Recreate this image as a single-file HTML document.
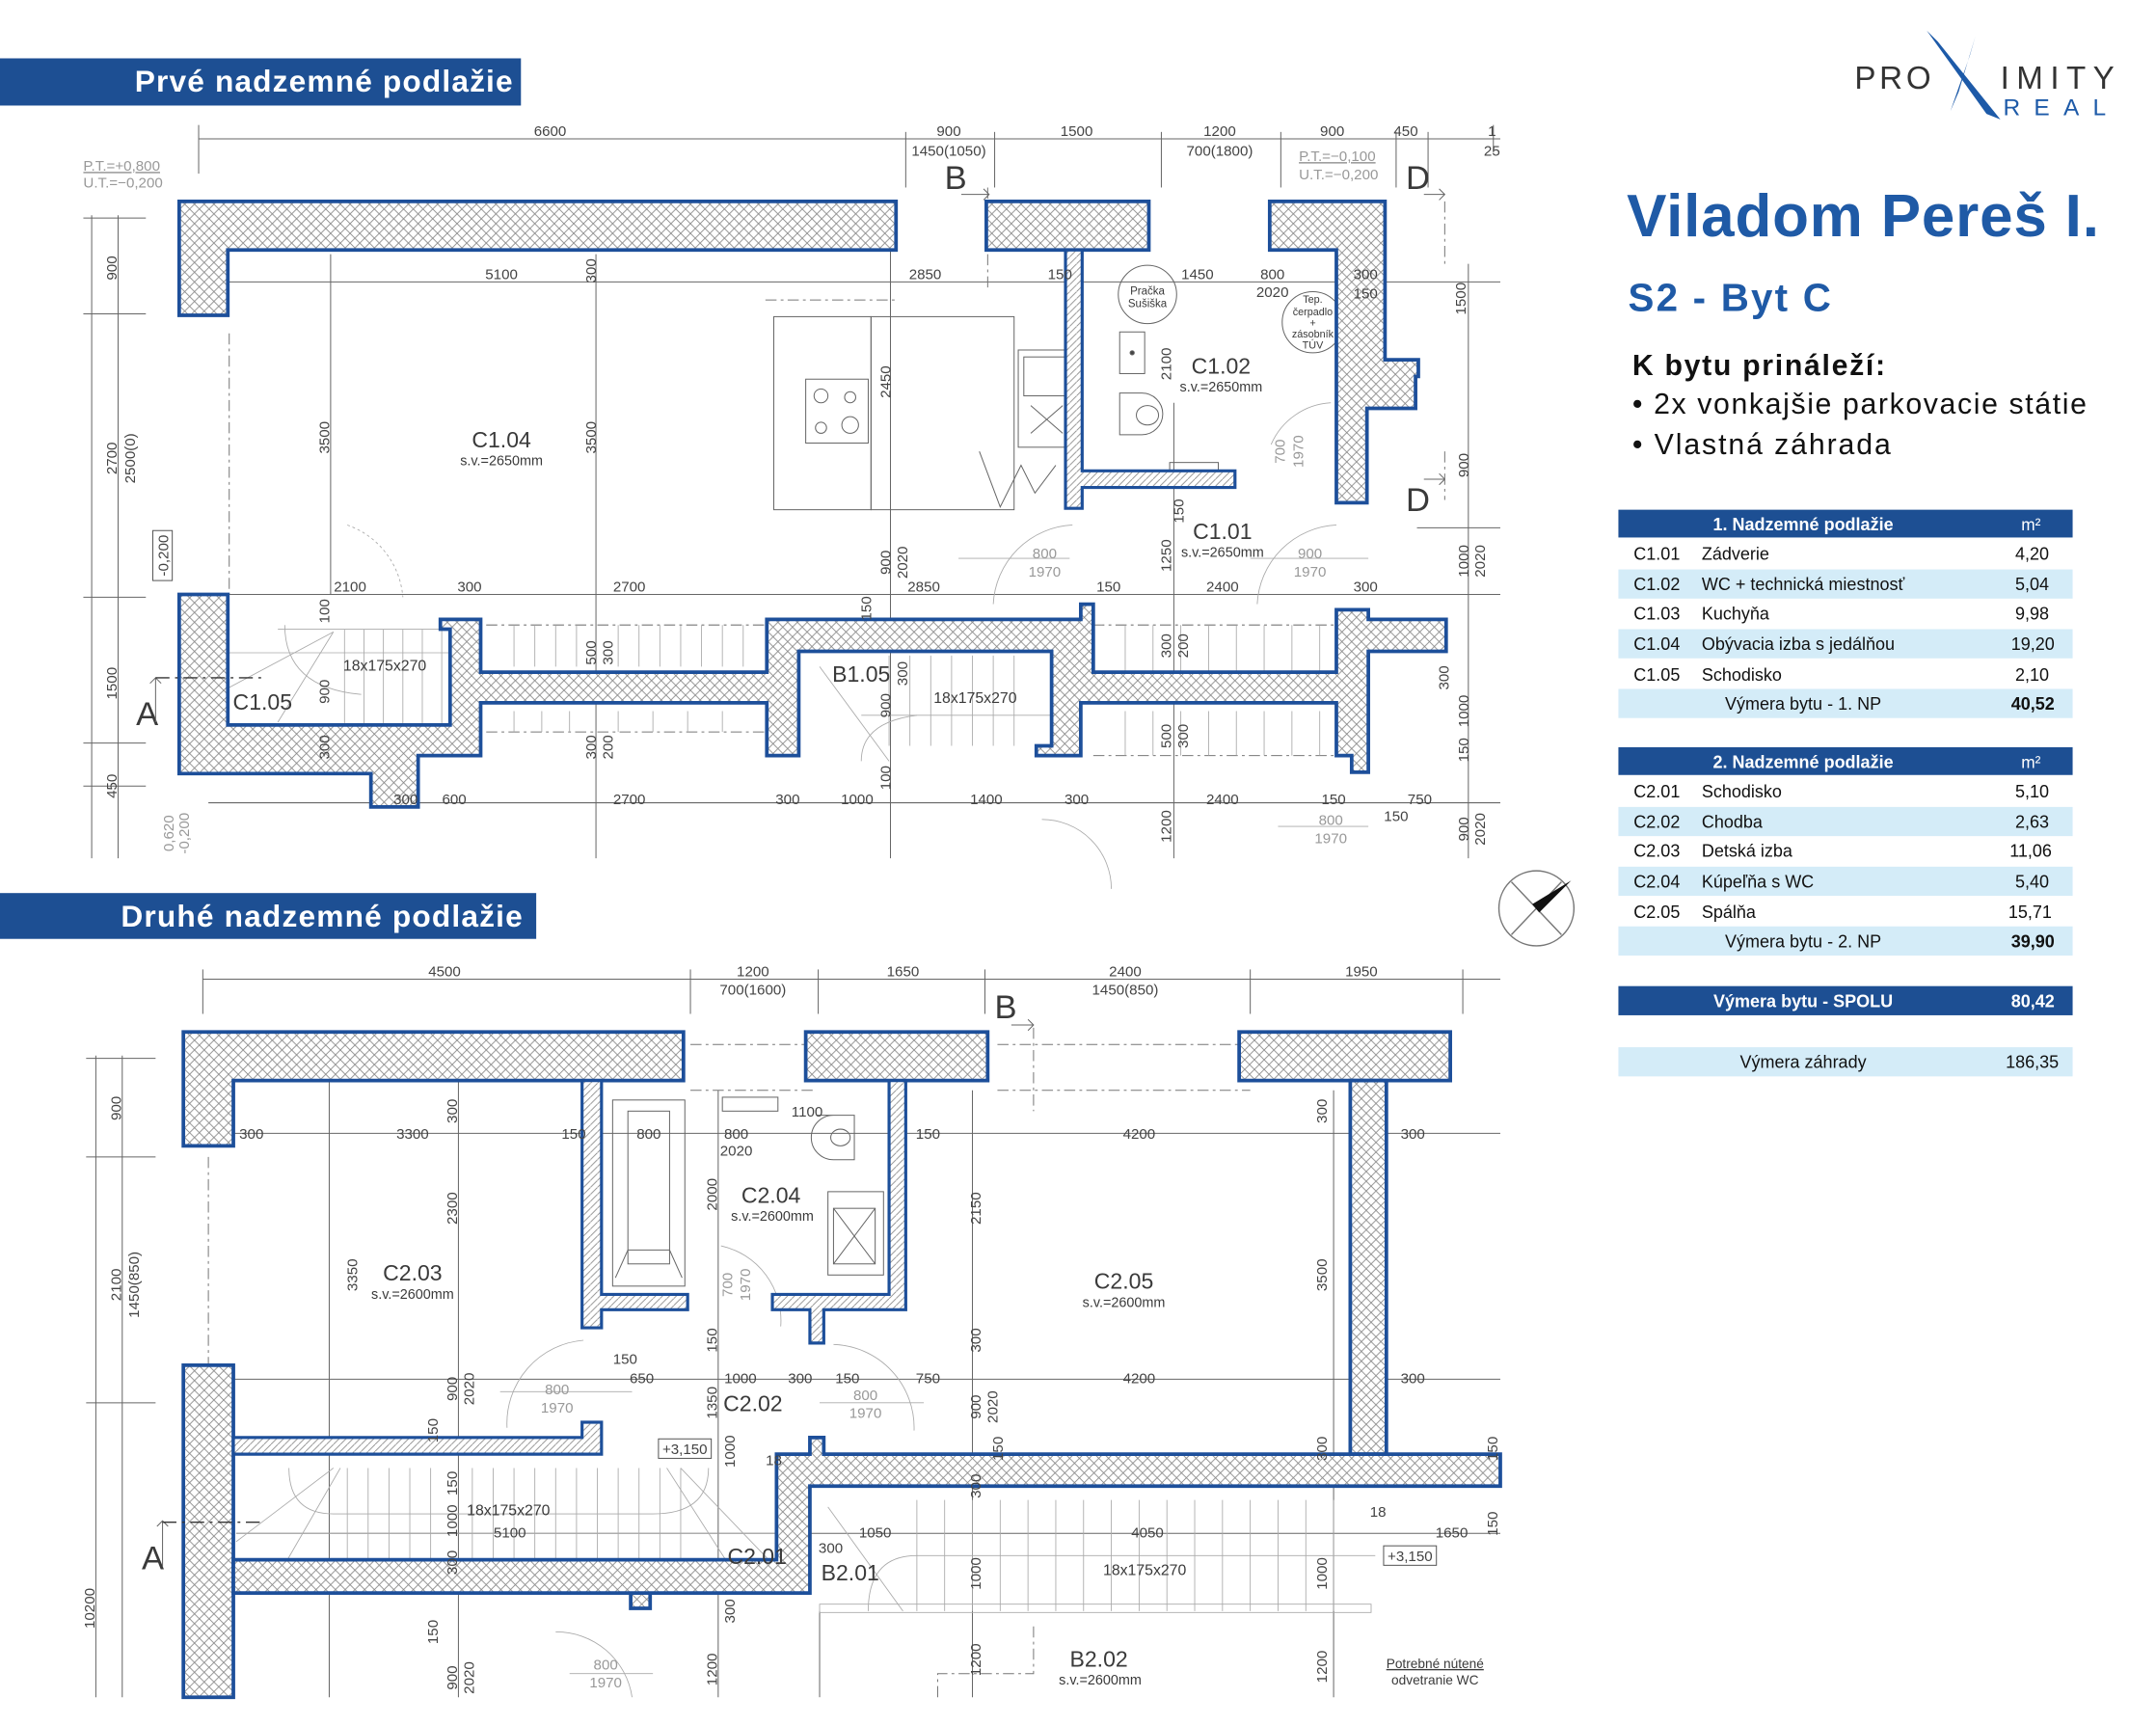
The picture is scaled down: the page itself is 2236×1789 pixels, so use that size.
<!DOCTYPE html>
<html><head><meta charset="utf-8">
<style>
html,body{margin:0;padding:0;background:#fff;}
svg{display:block;}
.n{font-family:"Liberation Sans Narrow","Liberation Sans",sans-serif;fill:#3a3a3a;}
.d{font-family:"Liberation Sans Narrow","Liberation Sans",sans-serif;fill:#444;font-size:10.5px;}
.g{font-family:"Liberation Sans Narrow","Liberation Sans",sans-serif;fill:#999;font-size:10.5px;}
.t{font-family:"Liberation Sans",sans-serif;fill:#111;font-size:12.5px;}
.w{fill:url(#hx);stroke:#1d4f9a;stroke-width:2.6;stroke-linejoin:miter;}
.tw{fill:url(#hs);stroke:#1d4f9a;stroke-width:2.2;}
.l{stroke:#666;stroke-width:0.7;fill:none;}
.ll{stroke:#aaa;stroke-width:0.6;fill:none;}
.dash{stroke:#777;stroke-width:0.7;fill:none;stroke-dasharray:8 3 2 3;}
</style></head><body>
<svg width="2236" height="1789" viewBox="0 0 1552 1242" preserveAspectRatio="none" xmlns="http://www.w3.org/2000/svg">
<defs>
<pattern id="hx" width="7" height="7" patternUnits="userSpaceOnUse">
<rect width="7" height="7" fill="#fff"/>
<path d="M0,0L7,7M7,0L0,7" stroke="#888" stroke-width="0.6"/>
</pattern>
<pattern id="hs" width="5" height="5" patternUnits="userSpaceOnUse">
<rect width="5" height="5" fill="#fff"/>
<path d="M0,5L5,0" stroke="#888" stroke-width="0.6"/>
</pattern>
</defs>
<rect width="1552" height="1242" fill="#fff"/>

<!-- ===== Headers ===== -->
<rect x="0" y="42" width="375" height="34" fill="#1d4f93"/>
<text x="97" y="66" font-family="Liberation Sans Narrow,Liberation Sans,sans-serif" font-weight="bold" font-size="22" fill="#fff" textLength="272">Prvé nadzemné podlažie</text>
<rect x="0" y="643" width="386" height="33" fill="#1d4f93"/>
<text x="87" y="667" font-family="Liberation Sans Narrow,Liberation Sans,sans-serif" font-weight="bold" font-size="22" fill="#fff" textLength="289">Druhé nadzemné podlažie</text>

<!-- ===== Logo ===== -->
<text x="1335" y="64" font-family="Liberation Sans,sans-serif" font-size="23" fill="#333" textLength="55" lengthAdjust="spacing">PRO</text>
<text x="1440" y="64" font-family="Liberation Sans,sans-serif" font-size="23" fill="#333" textLength="82" lengthAdjust="spacing">IMITY</text>
<text x="1442" y="83" font-family="Liberation Sans,sans-serif" font-size="17" fill="#1d5aa8" textLength="74" lengthAdjust="spacing">REAL</text>
<polygon points="1387,22 1395,30 1440,86 1430,82" fill="#1d5aa8"/>
<polygon points="1422,26 1418,40 1404,80 1410,66" fill="#1d5aa8"/>

<!-- ===== Titles ===== -->
<text x="1171" y="170" font-family="Liberation Sans,sans-serif" font-weight="bold" font-size="43" fill="#1f5aa6" textLength="340">Viladom Pereš I.</text>
<text x="1172" y="224" font-family="Liberation Sans,sans-serif" font-weight="bold" font-size="28" fill="#1f5aa6" textLength="146">S2 - Byt C</text>
<text x="1175" y="270" font-family="Liberation Sans,sans-serif" font-weight="bold" font-size="21" fill="#111" textLength="182">K bytu prináleží:</text>
<text x="1175" y="298" font-family="Liberation Sans,sans-serif" font-size="21" fill="#111" textLength="327">• 2x vonkajšie parkovacie státie</text>
<text x="1175" y="327" font-family="Liberation Sans,sans-serif" font-size="21" fill="#111" textLength="186">• Vlastná záhrada</text>

<!-- ===== Table 1 ===== -->
<rect x="1165" y="367" width="327" height="20" fill="#1d4f93"/>
<text x="1298" y="382" text-anchor="middle" font-family="Liberation Sans,sans-serif" font-weight="bold" font-size="12.5" fill="#fff">1. Nadzemné podlažie</text>
<text x="1462" y="382" text-anchor="middle" font-family="Liberation Sans,sans-serif" font-size="12" fill="#fff">m²</text>
<rect x="1165" y="410" width="327" height="21" fill="#d4ecf8"/>
<rect x="1165" y="453" width="327" height="21" fill="#d4ecf8"/>
<rect x="1165" y="496" width="327" height="21" fill="#d4ecf8"/>
<g class="t">
<text x="1176" y="403">C1.01</text><text x="1225" y="403">Zádverie</text><text x="1475" y="403" text-anchor="end">4,20</text>
<text x="1176" y="425">C1.02</text><text x="1225" y="425">WC + technická miestnosť</text><text x="1475" y="425" text-anchor="end">5,04</text>
<text x="1176" y="446">C1.03</text><text x="1225" y="446">Kuchyňa</text><text x="1475" y="446" text-anchor="end">9,98</text>
<text x="1176" y="468">C1.04</text><text x="1225" y="468">Obývacia izba s jedálňou</text><text x="1479" y="468" text-anchor="end">19,20</text>
<text x="1176" y="490">C1.05</text><text x="1225" y="490">Schodisko</text><text x="1475" y="490" text-anchor="end">2,10</text>
<text x="1298" y="511" text-anchor="middle">Výmera bytu - 1. NP</text><text x="1479" y="511" text-anchor="end" font-weight="bold">40,52</text>
</g>
<!-- ===== Table 2 ===== -->
<rect x="1165" y="538" width="327" height="20" fill="#1d4f93"/>
<text x="1298" y="553" text-anchor="middle" font-family="Liberation Sans,sans-serif" font-weight="bold" font-size="12.5" fill="#fff">2. Nadzemné podlažie</text>
<text x="1462" y="553" text-anchor="middle" font-family="Liberation Sans,sans-serif" font-size="12" fill="#fff">m²</text>
<rect x="1165" y="581" width="327" height="21" fill="#d4ecf8"/>
<rect x="1165" y="624" width="327" height="21" fill="#d4ecf8"/>
<rect x="1165" y="667" width="327" height="21" fill="#d4ecf8"/>
<g class="t">
<text x="1176" y="574">C2.01</text><text x="1225" y="574">Schodisko</text><text x="1475" y="574" text-anchor="end">5,10</text>
<text x="1176" y="596">C2.02</text><text x="1225" y="596">Chodba</text><text x="1475" y="596" text-anchor="end">2,63</text>
<text x="1176" y="617">C2.03</text><text x="1225" y="617">Detská izba</text><text x="1477" y="617" text-anchor="end">11,06</text>
<text x="1176" y="639">C2.04</text><text x="1225" y="639">Kúpeľňa s WC</text><text x="1475" y="639" text-anchor="end">5,40</text>
<text x="1176" y="661">C2.05</text><text x="1225" y="661">Spálňa</text><text x="1477" y="661" text-anchor="end">15,71</text>
<text x="1298" y="682" text-anchor="middle">Výmera bytu - 2. NP</text><text x="1479" y="682" text-anchor="end" font-weight="bold">39,90</text>
</g>
<rect x="1165" y="710" width="327" height="21" fill="#1d4f93"/>
<text x="1298" y="725" text-anchor="middle" font-family="Liberation Sans,sans-serif" font-weight="bold" font-size="12.5" fill="#fff">Výmera bytu - SPOLU</text>
<text x="1479" y="725" text-anchor="end" font-family="Liberation Sans,sans-serif" font-weight="bold" font-size="12.5" fill="#fff">80,42</text>
<rect x="1165" y="754" width="327" height="21" fill="#d4ecf8"/>
<text x="1298" y="769" text-anchor="middle" class="t">Výmera záhrady</text>
<text x="1482" y="769" text-anchor="end" class="t">186,35</text>

<!-- ===== Compass ===== -->
<circle cx="1106" cy="654" r="27" fill="none" stroke="#777" stroke-width="1"/>
<path d="M1088,635L1124,673M1088,673L1124,635" stroke="#777" stroke-width="1"/>
<polygon points="1131,634 1103,651 1108,657" fill="#111"/>

<!-- ================= TOP PLAN ================= -->
<g class="l">
<line x1="143" y1="100" x2="1080" y2="100"/>
<line x1="143" y1="90" x2="143" y2="125"/><line x1="652" y1="95" x2="652" y2="135"/><line x1="716" y1="95" x2="716" y2="135"/><line x1="836" y1="95" x2="836" y2="135"/><line x1="922" y1="95" x2="922" y2="135"/><line x1="1005" y1="95" x2="1005" y2="135"/><line x1="1028" y1="95" x2="1028" y2="135"/><line x1="1075" y1="90" x2="1075" y2="110"/>
<line x1="165" y1="203" x2="1080" y2="203"/>
<line x1="140" y1="428" x2="1080" y2="428"/>
<line x1="150" y1="578" x2="1080" y2="578"/>
<line x1="66" y1="155" x2="66" y2="618"/><line x1="85" y1="155" x2="85" y2="618"/>
<line x1="60" y1="157" x2="105" y2="157"/><line x1="60" y1="226" x2="105" y2="226"/><line x1="60" y1="430" x2="105" y2="430"/><line x1="60" y1="535" x2="105" y2="535"/><line x1="60" y1="566" x2="105" y2="566"/>
<line x1="238" y1="183" x2="238" y2="428"/>
<line x1="429" y1="183" x2="429" y2="618"/>
<line x1="641" y1="180" x2="641" y2="618"/>
<line x1="845" y1="290" x2="845" y2="618"/>
<line x1="1057" y1="190" x2="1057" y2="618"/>
<line x1="1020" y1="380" x2="1080" y2="380"/>
</g>
<g class="dash">
<line x1="350" y1="450" x2="557" y2="450"/><line x1="350" y1="527" x2="557" y2="527"/>
<line x1="787" y1="450" x2="972" y2="450"/><line x1="787" y1="544" x2="962" y2="544"/>
<line x1="165" y1="240" x2="165" y2="428"/>
<line x1="551" y1="216" x2="645" y2="216"/>
<line x1="1040" y1="145" x2="1040" y2="190"/><line x1="1040" y1="325" x2="1040" y2="360"/>
<line x1="711" y1="135" x2="711" y2="210"/>
</g>
<g class="ll">
<line x1="200" y1="453" x2="324" y2="453"/><line x1="165" y1="470" x2="324" y2="470"/>
<path d="M248,453V522M262,453V522M276,453V522M290,453V522M304,453V522M318,453V522"/>
<path d="M370,450V480M385,450V480M400,450V480M415,450V480M445,450V480M460,450V480M475,450V480M490,450V480M505,450V480M520,450V480M535,450V480"/>
<path d="M370,512V527M390,512V527M410,512V527M445,512V527M470,512V527M495,512V527M520,512V527"/>
<path d="M640,472V537M655,472V537M670,472V537M685,472V537M700,472V537M715,472V537M730,472V537"/>
<line x1="620" y1="515" x2="757" y2="515"/>
<path d="M810,450V484M830,450V484M850,450V484M870,450V484M890,450V484M910,450V484M930,450V484M950,450V484"/>
<path d="M810,512V544M830,512V544M850,512V544M870,512V544M890,512V544M910,512V544M930,512V544M950,512V544"/>
<line x1="165" y1="495" x2="240" y2="455"/><line x1="200" y1="520" x2="240" y2="455"/>
<line x1="590" y1="480" x2="640" y2="548"/>
<path d="M205,450 Q205,495 260,500" />
<path d="M620,548 Q620,520 660,515" />
</g>
<g class="l">
<rect x="557" y="228" width="70" height="139"/>
<rect x="627" y="228" width="103" height="139"/>
<rect x="580" y="273" width="45" height="46"/>
<circle cx="591" cy="285" r="5"/><circle cx="612" cy="286" r="4"/><circle cx="591" cy="308" r="4"/><circle cx="612" cy="306" r="6"/>
<rect x="733" y="252" width="40" height="70"/>
<rect x="737" y="257" width="32" height="28"/>
<path d="M742,292L765,312M742,312L765,292"/>
<path d="M705,325L720,365L735,335L745,355L760,335"/>
</g>
<g class="l">
<circle cx="826" cy="212" r="21"/>
<circle cx="945" cy="232" r="22"/>
<rect x="806" y="239" width="18" height="30"/>
<circle cx="815" cy="254" r="1.5" fill="#444"/>
<path d="M806,283H822a15,15 0 0 1 0,30H806Z"/>
<ellipse cx="826" cy="299" rx="8" ry="7"/>
<rect x="842" y="333" width="35" height="10"/>
</g>
<g class="ll">
<path d="M715,435 A60,60 0 0 1 772,378"/>
<path d="M905,435 A60,60 0 0 1 962,378"/>
<path d="M915,320 A50,50 0 0 1 958,290"/>
<path d="M750,590 A50,50 0 0 1 800,640"/>
<line x1="690" y1="402" x2="770" y2="402"/><line x1="900" y1="402" x2="985" y2="402"/>
<line x1="920" y1="595" x2="985" y2="595"/>
<path d="M250,378 A60,60 0 0 1 290,430" stroke-dasharray="2 2"/>
</g>
<polygon class="w" points="129,145 645,145 645,180 164,180 164,227 129,227"/>
<polygon class="w" points="710,145 827,145 827,180 710,180"/>
<polygon class="w" points="914,145 997,145 997,259 1021,259 1021,271 1019,271 1019,294 984,294 984,362 962,362 962,180 914,180"/>
<polygon class="tw" points="767,180 779,180 779,339 889,339 889,351 779,351 779,366 767,366"/>
<polygon class="w" points="129,428 164,428 164,522 324,522 324,453 317,453 317,446 346,446 346,484 552,484 552,446 778,446 778,435 787,435 787,484 962,484 962,439 985,439 985,446 1041,446 1041,469 985,469 985,556 973,556 973,544 962,544 962,506 778,506 778,544 746,544 746,537 757,537 757,469 575,469 575,544 552,544 552,506 346,506 346,544 301,544 301,581 267,581 267,557 129,557"/>
<g class="n">
<text x="680" y="136" font-size="24">B</text>
<text x="1012" y="136" font-size="24">D</text>
<text x="1012" y="368" font-size="24">D</text>
<text x="98" y="522" font-size="24">A</text>
</g>
<path d="M692,140H712M708,136L712,140L708,144" class="l"/>
<path d="M1025,140H1040M1036,136L1040,140L1036,144" class="l"/>
<path d="M1025,345H1040M1036,341L1040,345L1036,349" class="l"/>
<path d="M112,488V520M108,492L112,488L116,492" class="l"/>
<line x1="112" y1="488" x2="190" y2="488" stroke="#333" stroke-width="1" stroke-dasharray="10 4 2 4"/>
<g class="n">
<text x="361" y="322" font-size="16" text-anchor="middle">C1.04</text>
<text x="361" y="335" font-size="10" text-anchor="middle">s.v.=2650mm</text>
<text x="879" y="269" font-size="16" text-anchor="middle">C1.02</text>
<text x="879" y="282" font-size="10" text-anchor="middle">s.v.=2650mm</text>
<text x="880" y="388" font-size="16" text-anchor="middle">C1.01</text>
<text x="880" y="401" font-size="10" text-anchor="middle">s.v.=2650mm</text>
<text x="189" y="511" font-size="16" text-anchor="middle">C1.05</text>
<text x="620" y="491" font-size="16" text-anchor="middle">B1.05</text>
<text x="277" y="483" font-size="11" text-anchor="middle">18x175x270</text>
<text x="702" y="506" font-size="11" text-anchor="middle">18x175x270</text>
<text x="826" y="212" font-size="8" text-anchor="middle">Pračka</text>
<text x="826" y="221" font-size="8" text-anchor="middle">Sušiška</text>
<text x="945" y="218" font-size="7.5" text-anchor="middle">Tep.</text>
<text x="945" y="227" font-size="7.5" text-anchor="middle">čerpadlo</text>
<text x="945" y="235" font-size="7.5" text-anchor="middle">+</text>
<text x="945" y="243" font-size="7.5" text-anchor="middle">zásobník</text>
<text x="945" y="251" font-size="7.5" text-anchor="middle">TÚV</text>
</g>
<g class="d" text-anchor="middle">
<text x="396" y="98">6600</text><text x="683" y="98">900</text><text x="683" y="112">1450(1050)</text><text x="775" y="98">1500</text><text x="878" y="98">1200</text><text x="878" y="112">700(1800)</text><text x="959" y="98">900</text><text x="1012" y="98">450</text><text x="1074" y="98">1</text><text x="1074" y="112">25</text>
<text x="361" y="201">5100</text><text x="666" y="201">2850</text><text x="763" y="201">150</text><text x="862" y="201">1450</text><text x="916" y="201">800</text><text x="916" y="214">2020</text><text x="983" y="201">300</text><text x="983" y="215">150</text>
<text x="252" y="426">2100</text><text x="338" y="426">300</text><text x="453" y="426">2700</text><text x="665" y="426">2850</text><text x="798" y="426">150</text><text x="880" y="426">2400</text><text x="983" y="426">300</text>
<text x="292" y="579">300</text><text x="327" y="579">600</text><text x="453" y="579">2700</text><text x="567" y="579">300</text><text x="617" y="579">1000</text><text x="710" y="579">1400</text><text x="775" y="579">300</text><text x="880" y="579">2400</text><text x="960" y="579">150</text><text x="1022" y="579">750</text><text x="1005" y="591">150</text>
</g>
<g class="g" text-anchor="middle">
<text x="752" y="402">800</text><text x="752" y="415">1970</text>
<text x="943" y="402">900</text><text x="943" y="415">1970</text>
<text x="958" y="594">800</text><text x="958" y="607">1970</text>
</g>
<g class="d" text-anchor="middle">
<text transform="translate(84,193) rotate(-90)">900</text>
<text transform="translate(84,330) rotate(-90)">2700</text>
<text transform="translate(97,330) rotate(-90)">2500(0)</text>
<text transform="translate(84,492) rotate(-90)">1500</text>
<text transform="translate(84,566) rotate(-90)">450</text>
<text transform="translate(237,315) rotate(-90)">3500</text>
<text transform="translate(429,315) rotate(-90)">3500</text>
<text transform="translate(429,195) rotate(-90)">300</text>
<text transform="translate(641,275) rotate(-90)">2450</text>
<text transform="translate(843,262) rotate(-90)">2100</text>
<text transform="translate(641,405) rotate(-90)">900</text>
<text transform="translate(653,405) rotate(-90)">2020</text>
<text transform="translate(843,400) rotate(-90)">1250</text>
<text transform="translate(852,368) rotate(-90)">150</text>
<text transform="translate(627,438) rotate(-90)">150</text>
<text transform="translate(237,440) rotate(-90)">100</text>
<text transform="translate(237,498) rotate(-90)">900</text>
<text transform="translate(237,538) rotate(-90)">300</text>
<text transform="translate(429,470) rotate(-90)">500</text>
<text transform="translate(441,470) rotate(-90)">300</text>
<text transform="translate(429,538) rotate(-90)">300</text>
<text transform="translate(441,538) rotate(-90)">200</text>
<text transform="translate(653,485) rotate(-90)">300</text>
<text transform="translate(641,508) rotate(-90)">900</text>
<text transform="translate(641,560) rotate(-90)">100</text>
<text transform="translate(843,465) rotate(-90)">300</text>
<text transform="translate(855,465) rotate(-90)">200</text>
<text transform="translate(843,530) rotate(-90)">500</text>
<text transform="translate(855,530) rotate(-90)">300</text>
<text transform="translate(1043,488) rotate(-90)">300</text>
<text transform="translate(1057,512) rotate(-90)">1000</text>
<text transform="translate(1057,540) rotate(-90)">150</text>
<text transform="translate(1055,215) rotate(-90)">1500</text>
<text transform="translate(1057,335) rotate(-90)">900</text>
<text transform="translate(1057,404) rotate(-90)">1000</text>
<text transform="translate(1069,404) rotate(-90)">2020</text>
<text transform="translate(843,595) rotate(-90)">1200</text>
<text transform="translate(1057,597) rotate(-90)">900</text>
<text transform="translate(1069,597) rotate(-90)">2020</text>
<text transform="translate(925,325) rotate(-90)" class="g">700</text>
<text transform="translate(938,325) rotate(-90)" class="g">1970</text>
<text transform="translate(125,600) rotate(-90)" class="g">0,620</text>
<text transform="translate(136,600) rotate(-90)" class="g">-0,200</text>
</g>
<rect x="110" y="382" width="14" height="36" fill="none" stroke="#555" stroke-width="0.7"/>
<text transform="translate(121,400) rotate(-90)" class="d" text-anchor="middle">-0,200</text>
<g class="g"><text x="60" y="123" text-decoration="underline">P.T.=+0,800</text><text x="60" y="135">U.T.=−0,200</text>
<text x="935" y="116" text-decoration="underline">P.T.=−0,100</text><text x="935" y="129">U.T.=−0,200</text></g>

<!-- ================= BOTTOM PLAN ================= -->
<g class="l">
<line x1="146" y1="705" x2="1080" y2="705"/>
<line x1="146" y1="698" x2="146" y2="730"/><line x1="497" y1="698" x2="497" y2="730"/><line x1="589" y1="698" x2="589" y2="730"/><line x1="709" y1="698" x2="709" y2="730"/><line x1="900" y1="698" x2="900" y2="730"/><line x1="1053" y1="698" x2="1053" y2="730"/>
<line x1="168" y1="816" x2="1080" y2="816"/>
<line x1="168" y1="993" x2="1080" y2="993"/>
<line x1="170" y1="1104" x2="1080" y2="1104"/>
<line x1="69" y1="760" x2="69" y2="1222"/><line x1="88" y1="760" x2="88" y2="1222"/>
<line x1="62" y1="762" x2="112" y2="762"/><line x1="62" y1="833" x2="112" y2="833"/><line x1="62" y1="1010" x2="112" y2="1010"/>
<line x1="237" y1="778" x2="237" y2="1222"/>
<line x1="330" y1="778" x2="330" y2="1222"/>
<line x1="517" y1="785" x2="517" y2="1222"/>
<line x1="700" y1="785" x2="700" y2="1222"/>
<line x1="960" y1="785" x2="960" y2="1222"/>
<line x1="590" y1="1160" x2="590" y2="1222"/>
</g>
<g class="l">
<rect x="441" y="792" width="52" height="134"/>
<rect x="452" y="800" width="30" height="110"/>
<path d="M443,920L452,900H482L491,920"/>
<path d="M588,803H615V835H600a16,16 0 0 1 0,-32"/>
<ellipse cx="605" cy="819" rx="7" ry="6"/>
<rect x="596" y="858" width="40" height="60"/>
<rect x="600" y="870" width="30" height="40"/>
<path d="M600,870L630,910M630,870L600,910"/>
<rect x="520" y="790" width="40" height="10"/>
</g>
<g class="ll">
<path d="M519,897 A55,55 0 0 1 562,955"/>
<path d="M365,1028 A60,60 0 0 1 420,965"/>
<path d="M658,1030 A60,60 0 0 0 600,968"/>
<line x1="360" y1="1002" x2="455" y2="1002"/><line x1="590" y1="1010" x2="665" y2="1010"/>
<path d="M400,1175 A55,55 0 0 1 455,1222"/>
<line x1="410" y1="1205" x2="470" y2="1205"/>
<path d="M250,1057V1135M265,1057V1135M280,1057V1135M295,1057V1135M310,1057V1135M340,1057V1135M355,1057V1135M370,1057V1135M385,1057V1135M400,1057V1135M415,1057V1135M430,1057V1135M445,1057V1135M460,1057V1135M475,1057V1135M490,1057V1135"/>
<line x1="170" y1="1104" x2="567" y2="1104"/>
<path d="M208,1057 Q208,1090 240,1090 H470 Q510,1090 510,1057"/>
<line x1="170" y1="1110" x2="240" y2="1057"/><line x1="200" y1="1135" x2="245" y2="1057"/><line x1="480" y1="1057" x2="530" y2="1135"/><line x1="490" y1="1057" x2="560" y2="1130"/>
<path d="M660,1080V1160M680,1080V1160M700,1080V1160M720,1080V1160M740,1080V1160M760,1080V1160M780,1080V1160M800,1080V1160M820,1080V1160M840,1080V1160M860,1080V1160M880,1080V1160M900,1080V1160M920,1080V1160M940,1080V1160M960,1080V1160"/>
<path d="M625,1160 Q625,1120 660,1120 H990"/>
<line x1="596" y1="1085" x2="650" y2="1160"/>
<rect x="590" y="1155" width="397" height="6"/>
</g>
<g class="dash">
<line x1="744" y1="740" x2="744" y2="800"/>
<line x1="497" y1="752" x2="586" y2="752"/><line x1="718" y1="752" x2="900" y2="752"/>
<line x1="497" y1="785" x2="586" y2="785"/><line x1="718" y1="785" x2="900" y2="785"/>
<line x1="150" y1="833" x2="150" y2="1010"/>
<path d="M675,1222V1205H744V1170"/>
</g>
<polygon class="w" points="132,743 492,743 492,778 168,778 168,825 132,825"/>
<polygon class="w" points="580,743 711,743 711,778 580,778"/>
<polygon class="w" points="892,743 1044,743 1044,778 892,778"/>
<polygon class="w" points="972,778 998,778 998,1047 972,1047"/>
<polygon class="w" points="132,983 168,983 168,1222 132,1222"/>
<polygon class="tw" points="419,778 433,778 433,932 495,932 495,943 433,943 433,956 419,956"/>
<polygon class="tw" points="640,778 652,778 652,943 593,943 593,967 583,967 583,943 556,943 556,932 640,932"/>
<polygon class="tw" points="168,1035 419,1035 419,1024 433,1024 433,1047 168,1047"/>
<polygon class="w" points="583,1035 593,1035 593,1047 972,1047 998,1047 1080,1047 1080,1070 583,1070 583,1147 454,1147 454,1158 468,1158 468,1147 168,1147 168,1123 559,1123 559,1047 583,1047"/>
<g class="n">
<text x="716" y="733" font-size="24">B</text>
<text x="102" y="1130" font-size="24">A</text>
</g>
<path d="M728,738H744M740,734L744,738L740,742" class="l"/>
<path d="M117,1095V1128M113,1099L117,1095L121,1099" class="l"/>
<line x1="117" y1="1096" x2="190" y2="1096" stroke="#333" stroke-width="1" stroke-dasharray="10 4 2 4"/>
<g class="n">
<text x="297" y="922" font-size="16" text-anchor="middle">C2.03</text>
<text x="297" y="935" font-size="10" text-anchor="middle">s.v.=2600mm</text>
<text x="555" y="866" font-size="16" text-anchor="middle">C2.04</text>
<text x="556" y="879" font-size="10" text-anchor="middle">s.v.=2600mm</text>
<text x="809" y="928" font-size="16" text-anchor="middle">C2.05</text>
<text x="809" y="941" font-size="10" text-anchor="middle">s.v.=2600mm</text>
<text x="542" y="1016" font-size="16" text-anchor="middle">C2.02</text>
<text x="545" y="1126" font-size="16" text-anchor="middle">C2.01</text>
<text x="612" y="1138" font-size="16" text-anchor="middle">B2.01</text>
<text x="791" y="1200" font-size="16" text-anchor="middle">B2.02</text>
<text x="792" y="1213" font-size="10" text-anchor="middle">s.v.=2600mm</text>
<text x="366" y="1091" font-size="11" text-anchor="middle">18x175x270</text>
<text x="824" y="1134" font-size="11" text-anchor="middle">18x175x270</text>
<text x="1033" y="1201" font-size="9.5" text-anchor="middle" text-decoration="underline">Potrebné  nútené</text>
<text x="1033" y="1213" font-size="9.5" text-anchor="middle">odvetranie  WC</text>
</g>
<rect x="474" y="1036" width="38" height="14" fill="none" stroke="#555" stroke-width="0.7"/>
<rect x="996" y="1113" width="38" height="14" fill="none" stroke="#555" stroke-width="0.7"/>
<g class="d" text-anchor="middle">
<text x="493" y="1047">+3,150</text><text x="1015" y="1124">+3,150</text>
<text x="320" y="703">4500</text><text x="542" y="703">1200</text><text x="542" y="716">700(1600)</text><text x="650" y="703">1650</text><text x="810" y="703">2400</text><text x="810" y="716">1450(850)</text><text x="980" y="703">1950</text>
<text x="181" y="820">300</text><text x="297" y="820">3300</text><text x="413" y="820">150</text><text x="467" y="820">800</text><text x="530" y="820">800</text><text x="530" y="832">2020</text><text x="581" y="804">1100</text><text x="668" y="820">150</text><text x="820" y="820">4200</text><text x="1017" y="820">300</text>
<text x="450" y="982">150</text><text x="462" y="996">650</text><text x="533" y="996">1000</text><text x="576" y="996">300</text><text x="610" y="996">150</text><text x="668" y="996">750</text><text x="820" y="996">4200</text><text x="1017" y="996">300</text>
<text x="557" y="1055">18</text><text x="992" y="1092">18</text><text x="598" y="1118">300</text>
<text x="367" y="1107">5100</text><text x="630" y="1107">1050</text><text x="826" y="1107">4050</text><text x="1045" y="1107">1650</text>
</g>
<g class="g" text-anchor="middle">
<text x="401" y="1004">800</text><text x="401" y="1017">1970</text>
<text x="623" y="1008">800</text><text x="623" y="1021">1970</text>
<text x="436" y="1202">800</text><text x="436" y="1215">1970</text>
</g>
<g class="d" text-anchor="middle">
<text transform="translate(87,798) rotate(-90)">900</text>
<text transform="translate(87,925) rotate(-90)">2100</text>
<text transform="translate(100,925) rotate(-90)">1450(850)</text>
<text transform="translate(68,1158) rotate(-90)">10200</text>
<text transform="translate(257,918) rotate(-90)">3350</text>
<text transform="translate(329,870) rotate(-90)">2300</text>
<text transform="translate(329,800) rotate(-90)">300</text>
<text transform="translate(329,1000) rotate(-90)">900</text>
<text transform="translate(341,1000) rotate(-90)">2020</text>
<text transform="translate(315,1030) rotate(-90)">150</text>
<text transform="translate(329,1068) rotate(-90)">150</text>
<text transform="translate(329,1095) rotate(-90)">1000</text>
<text transform="translate(329,1125) rotate(-90)">300</text>
<text transform="translate(315,1175) rotate(-90)">150</text>
<text transform="translate(329,1208) rotate(-90)">900</text>
<text transform="translate(341,1208) rotate(-90)">2020</text>
<text transform="translate(516,860) rotate(-90)">2000</text>
<text transform="translate(516,965) rotate(-90)">150</text>
<text transform="translate(516,1010) rotate(-90)">1350</text>
<text transform="translate(529,1045) rotate(-90)">1000</text>
<text transform="translate(516,1202) rotate(-90)">1200</text>
<text transform="translate(529,1160) rotate(-90)">300</text>
<text transform="translate(706,870) rotate(-90)">2150</text>
<text transform="translate(706,965) rotate(-90)">300</text>
<text transform="translate(706,1013) rotate(-90)">900</text>
<text transform="translate(718,1013) rotate(-90)">2020</text>
<text transform="translate(722,1043) rotate(-90)">150</text>
<text transform="translate(706,1070) rotate(-90)">300</text>
<text transform="translate(706,1133) rotate(-90)">1000</text>
<text transform="translate(706,1195) rotate(-90)">1200</text>
<text transform="translate(955,918) rotate(-90)">3500</text>
<text transform="translate(955,800) rotate(-90)">300</text>
<text transform="translate(955,1043) rotate(-90)">300</text>
<text transform="translate(955,1133) rotate(-90)">1000</text>
<text transform="translate(955,1200) rotate(-90)">1200</text>
<text transform="translate(1078,1043) rotate(-90)">150</text>
<text transform="translate(1078,1097) rotate(-90)">150</text>
<text transform="translate(527,925) rotate(-90)" class="g">700</text>
<text transform="translate(540,925) rotate(-90)" class="g">1970</text>
</g>
</svg>
</body></html>
